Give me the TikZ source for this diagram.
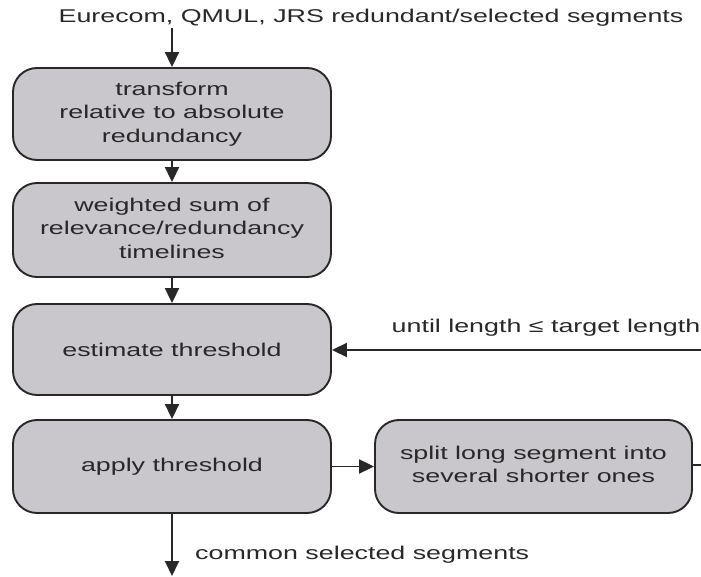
\documentclass[tikz,border=0pt]{standalone}
\usepackage{fontspec}
\setmainfont{Liberation Sans}
\usepackage{graphicx}
\usetikzlibrary{arrows.meta}
\definecolor{boxfill}{RGB}{201,199,203}
\definecolor{boxline}{RGB}{40,40,40}
\definecolor{inktext}{RGB}{40,40,40}
% wide sans text, as set in the flow chart
\newcommand{\widetxt}[1]{\scalebox{1.45}[1]{#1}}
\newcommand{\lines}[1]{\widetxt{\begin{tabular}{@{}c@{}}#1\end{tabular}}}
\begin{document}
\begin{tikzpicture}[x=1pt,y=-1pt,
  font=\fontsize{18.5}{23.5}\selectfont,
  stepbox/.style={draw=boxline, line width=1.9pt, fill=boxfill, rounded corners=24pt,
    minimum width=318pt, minimum height=92pt, inner sep=0pt, text=inktext, align=center},
  flow/.style={draw=boxline, line width=1.9pt, -{Triangle[length=15pt,width=14pt]}},
  plain/.style={draw=boxline, line width=1.9pt},
  lbl/.style={text=inktext, inner sep=0pt}]
\useasboundingbox (0,0) rectangle (701,577);

% input label
\node[lbl] (src) at (371,18) {\widetxt{Eurecom, QMUL, JRS redundant/selected segments}};

% processing steps
\node[stepbox] (b1) at (172,114) {\lines{transform\\relative to absolute\\redundancy}};
\node[stepbox, minimum height=94pt] (b2) at (172,230) {\lines{weighted sum of\\relevance/redundancy\\timelines}};
\node[stepbox, minimum height=91pt] (b3) at (172,349.5) {\widetxt{estimate threshold}};
\node[stepbox, minimum height=93pt] (b4) at (172,466.5) {\widetxt{apply threshold}};
\node[stepbox, minimum width=317pt, minimum height=93pt] (b5) at (533.5,466.5) {\lines{split long segment into\\several shorter ones}};

% loop labels and ends
\node[lbl] (until) at (546,328) {\widetxt{until length ≤ target length}};
\coordinate (loopout) at (701,465);
\coordinate (loopin) at (701,350);
\coordinate (sink) at (172,576);
\node[lbl, anchor=west] (out) at (195,555) {\widetxt{common selected segments}};

% connectors
\draw[flow] (172,28) -- (b1.north);
\draw[flow] (b1) -- (b2);
\draw[flow] (b2) -- (b3);
\draw[flow] (b3) -- (b4);
\draw[flow] (b4) -- (b5);
\draw[plain] (b5.east |- loopout) -- (loopout);
\draw[flow] (loopin) -- (b3.east |- loopin);
\draw[flow] (b4.south) -- (sink);
\end{tikzpicture}
\end{document}
